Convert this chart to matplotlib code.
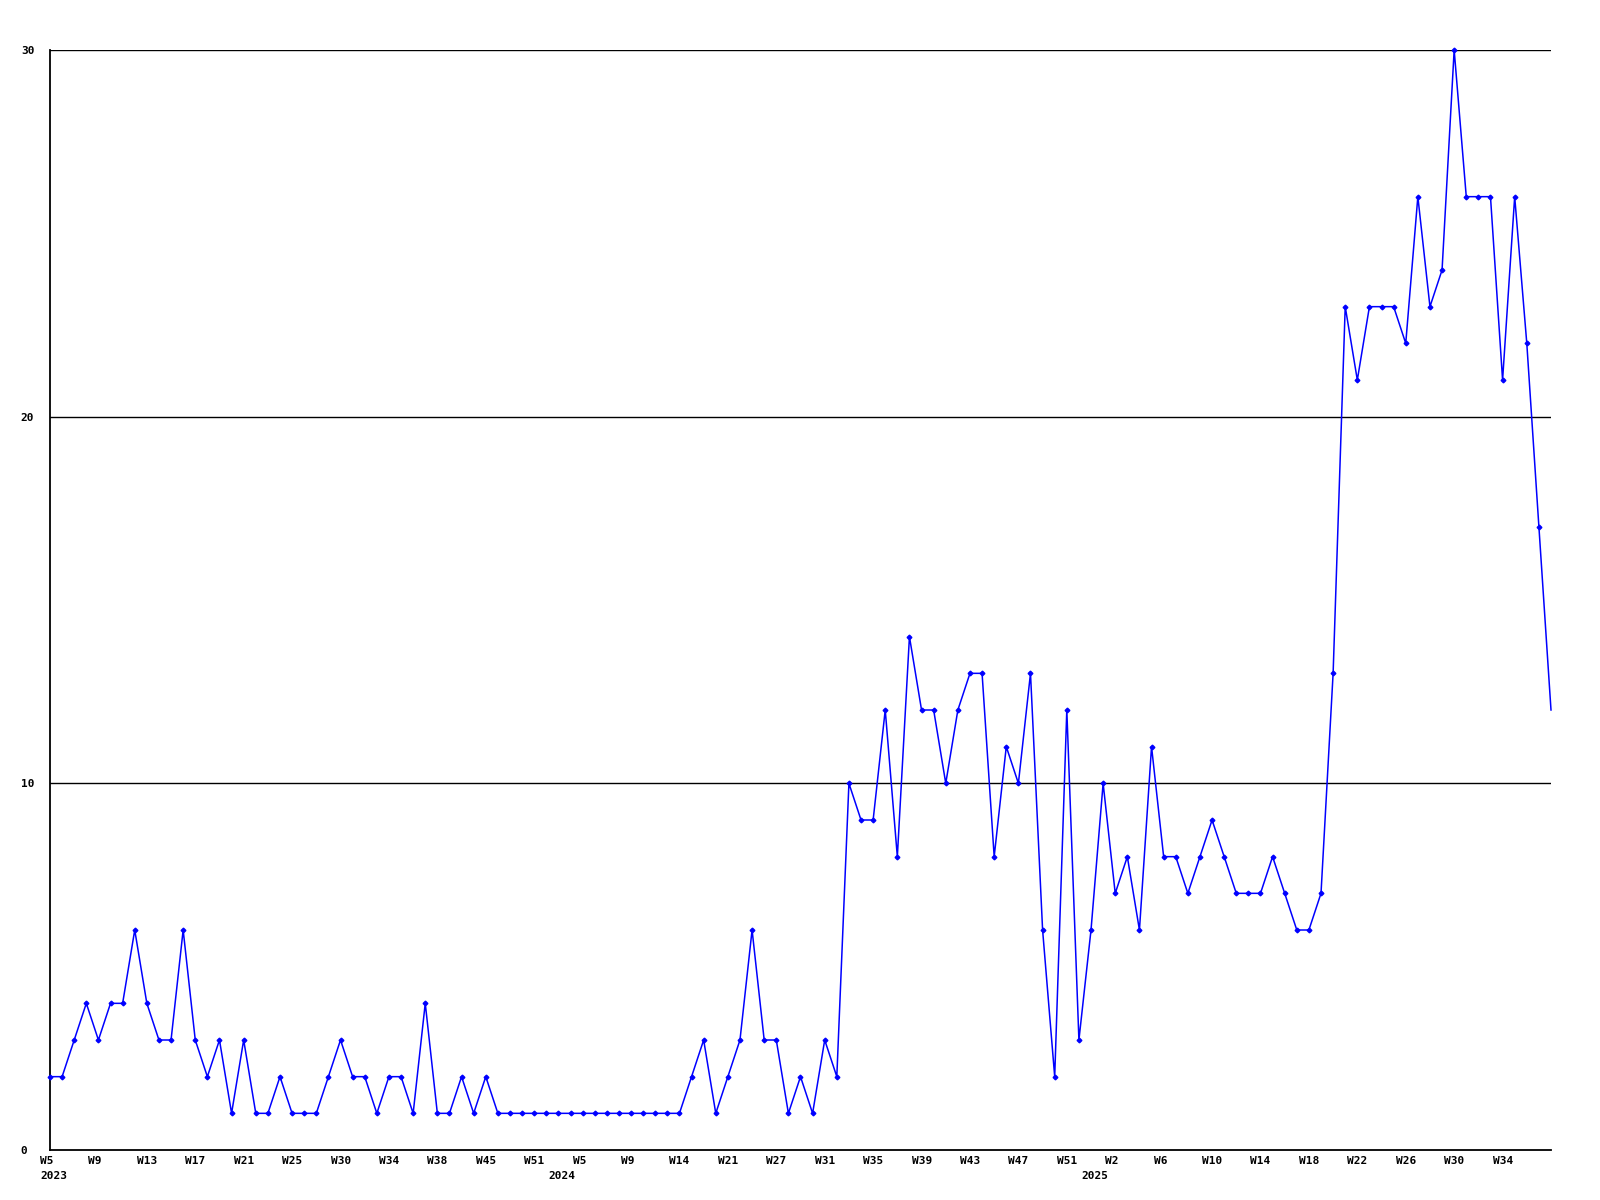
import numpy as np
import matplotlib.pyplot as plt
from matplotlib.transforms import ScaledTranslation

# -------------------------------
# Weekly counts (one value per week)
# -------------------------------
counts = [
    2, 2, 3, 4, 3, 4, 4, 6, 4, 3, 3,
    6, 3, 2, 3, 1, 3, 1, 1, 2, 1,
    1, 1, 2, 3, 2, 2, 1, 2, 2, 1,
    4, 1, 1, 2, 1, 2, 1, 1, 1, 1,
    1, 1, 1, 1, 1, 1, 1, 1, 1, 1, 1, 1,
    2, 3, 1, 2, 3, 6, 3, 3, 1, 2, 1, 3, 2,
    10, 9, 9, 12, 8, 14, 12, 12, 10, 12, 13, 13, 8, 11, 10, 13,
    6, 2, 12, 3, 6, 10, 7, 8, 6, 11, 8, 8, 7, 8, 9, 8, 7, 7, 7, 8, 7, 6, 6, 7,
    13, 23, 21, 23, 23, 23, 22, 26, 23, 24, 30, 26, 26, 26, 21, 26, 22, 17, 12,
]

# week labels every 4th point
week_labels = ['W5', 'W9', 'W13', 'W17', 'W21', 'W25', 'W30', 'W34', 'W38', 'W45', 'W51',
               'W5', 'W9', 'W14', 'W21', 'W27', 'W31', 'W35', 'W39', 'W43', 'W47', 'W51',
               'W2', 'W6', 'W10', 'W14', 'W18', 'W22', 'W26', 'W30', 'W34']
week_idx = list(range(0, 4 * len(week_labels), 4))

# year labels at the first point of each year
year_labels = ['2023', '2024', '2025']
year_idx = [0, 42, 86]

y_ticks = [0, 10, 20, 30]

fig = plt.figure(figsize=(16, 12), dpi=100)
ax = fig.add_axes([50 / 1600, 50 / 1200, 1501 / 1600, 1100 / 1200])

x = np.arange(len(counts))
# the last (still running) week is drawn without a marker
ax.plot(x, counts, color='#0000ff', lw=1.1, marker='D', ms=2.4,
        mfc='#0000ff', mec='#0000ff', markevery=list(range(len(counts) - 1)),
        clip_on=False, zorder=3)

ax.set_xlim(0, len(counts) - 1)
ax.set_ylim(0, 30)

# horizontal grid lines
for v in y_ticks[1:]:
    ax.axhline(v, color='black', lw=1, zorder=1)

for s in ['top', 'right']:
    ax.spines[s].set_visible(False)
for s in ['left', 'bottom']:
    ax.spines[s].set_linewidth(1.3)

font = dict(family='DejaVu Sans Mono', weight='bold', size=8)

ax.set_yticks(y_ticks)
ax.set_yticklabels([str(v) for v in y_ticks], **font)
ax.tick_params(axis='y', length=0, pad=21)
for lbl in ax.get_yticklabels():
    lbl.set_ha('left')

ax.set_xticks(week_idx)
ax.set_xticklabels(week_labels, **font)
ax.tick_params(axis='x', length=0, pad=4)
shift = ScaledTranslation(-10 / 100, 0, fig.dpi_scale_trans)
for lbl in ax.get_xticklabels():
    lbl.set_ha('left')
    lbl.set_transform(lbl.get_transform() + shift)

for pos, yr in zip(year_idx, year_labels):
    ax.annotate(yr, xy=(pos, 0), xycoords=('data', 'axes fraction'),
                xytext=(-10, -21), textcoords='offset pixels',
                ha='left', va='top', **font)

fig.savefig('out.png', dpi=100, facecolor='white')
